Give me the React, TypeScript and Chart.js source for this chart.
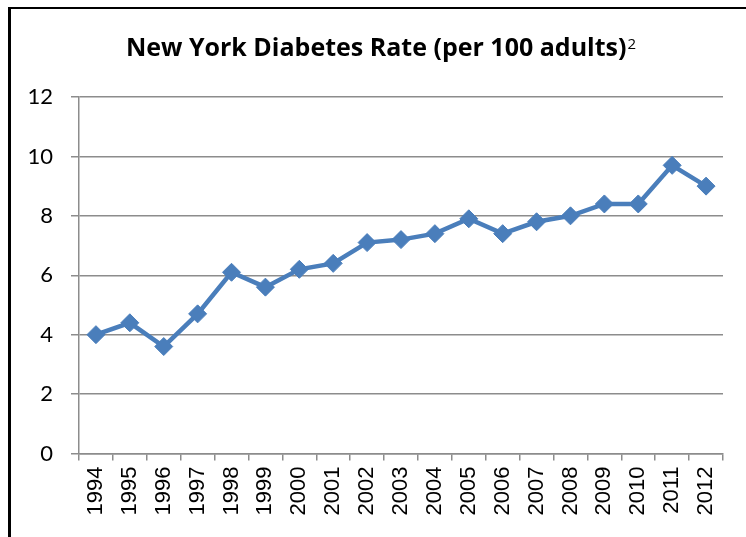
import React, { useEffect, useRef } from "react";
import { Chart, registerables } from "chart.js";

Chart.register(...registerables);

const years = ["1994","1995","1996","1997","1998","1999","2000","2001","2002","2003","2004","2005","2006","2007","2008","2009","2010","2011","2012"];
const rates = [4.0, 4.4, 3.6, 4.7, 6.1, 5.6, 6.2, 6.4, 7.1, 7.2, 7.4, 7.9, 7.4, 7.8, 8.0, 8.4, 8.4, 9.7, 9.0];
const titleText = "New York Diabetes Rate (per 100 adults)";
const titleSup = "2";

const titlePlugin = {
  id: "supTitle",
  afterDraw(chart: any) {
    const ctx = chart.ctx;
    ctx.save();
    ctx.fillStyle = "#000";
    ctx.textBaseline = "alphabetic";
    const mainFont = "bold 25px 'Open Sans'";
    const supFont = "15px 'Open Sans'";
    ctx.font = mainFont;
    const w1 = ctx.measureText(titleText).width;
    ctx.font = supFont;
    const w2 = ctx.measureText(titleSup).width;
    const total = w1 + 1 + w2;
    const x0 = 370 - total / 2;
    const y = 47;
    ctx.font = mainFont;
    ctx.textAlign = "left";
    ctx.fillText(titleText, x0, y);
    ctx.font = supFont;
    ctx.fillText(titleSup, x0 + w1 + 1, y - 7);
    ctx.restore();
  },
};

export default function App() {
  const ref = useRef<HTMLCanvasElement>(null);
  useEffect(() => {
    const chart = new Chart(ref.current!, {
      type: "line",
      data: {
        labels: years,
        datasets: [
          {
            data: rates,
            borderColor: "#4A7EBB",
            backgroundColor: "#4A7EBB",
            borderWidth: 4.5,
            pointStyle: "rectRot",
            pointRadius: 9,
            pointBorderWidth: 1,
            pointBorderColor: "#4A7EBB",
            pointBackgroundColor: "#4A7EBB",
            tension: 0,
          },
        ],
      },
      options: {
        responsive: false,
        animation: false,
        layout: { padding: { top: 88, right: 23, left: 0, bottom: 0 } },
        plugins: { legend: { display: false }, tooltip: { enabled: false }, title: { display: false } },
        scales: {
          x: {
            offset: true,
            grid: { drawOnChartArea: false, drawTicks: true, tickLength: 7, color: "#8c8c8c", lineWidth: 1.5, offset: true },
            border: { color: "#8c8c8c", width: 1.5 },
            ticks: {
              color: "#000",
              font: { family: "Liberation Sans", size: 22 },
              maxRotation: 90,
              minRotation: 90,
              padding: 6,
              autoSkip: false,
            },
            afterFit(scale: any) {
              scale.height = 85.5;
            },
          },
          y: {
            min: 0,
            max: 12,
            ticks: { stepSize: 2, color: "#000", font: { family: "Lato", size: 22 }, padding: 18 },
            grid: { color: "#8c8c8c", lineWidth: 1.5, tickLength: 8 },
            border: { color: "#8c8c8c", width: 1.5 },
            afterFit(scale: any) {
              scale.width = 68;
            },
          },
        },
      },
      plugins: [titlePlugin],
    });
    return () => chart.destroy();
  }, []);
  return (
    <div
      style={{
        position: "fixed",
        left: 8,
        top: 7,
        width: 760,
        height: 560,
        borderLeft: "3px solid #000",
        borderTop: "2px solid #000",
        background: "#fff",
      }}
    >
      <canvas ref={ref} width={735} height={530} style={{ display: "block" }} />
    </div>
  );
}
